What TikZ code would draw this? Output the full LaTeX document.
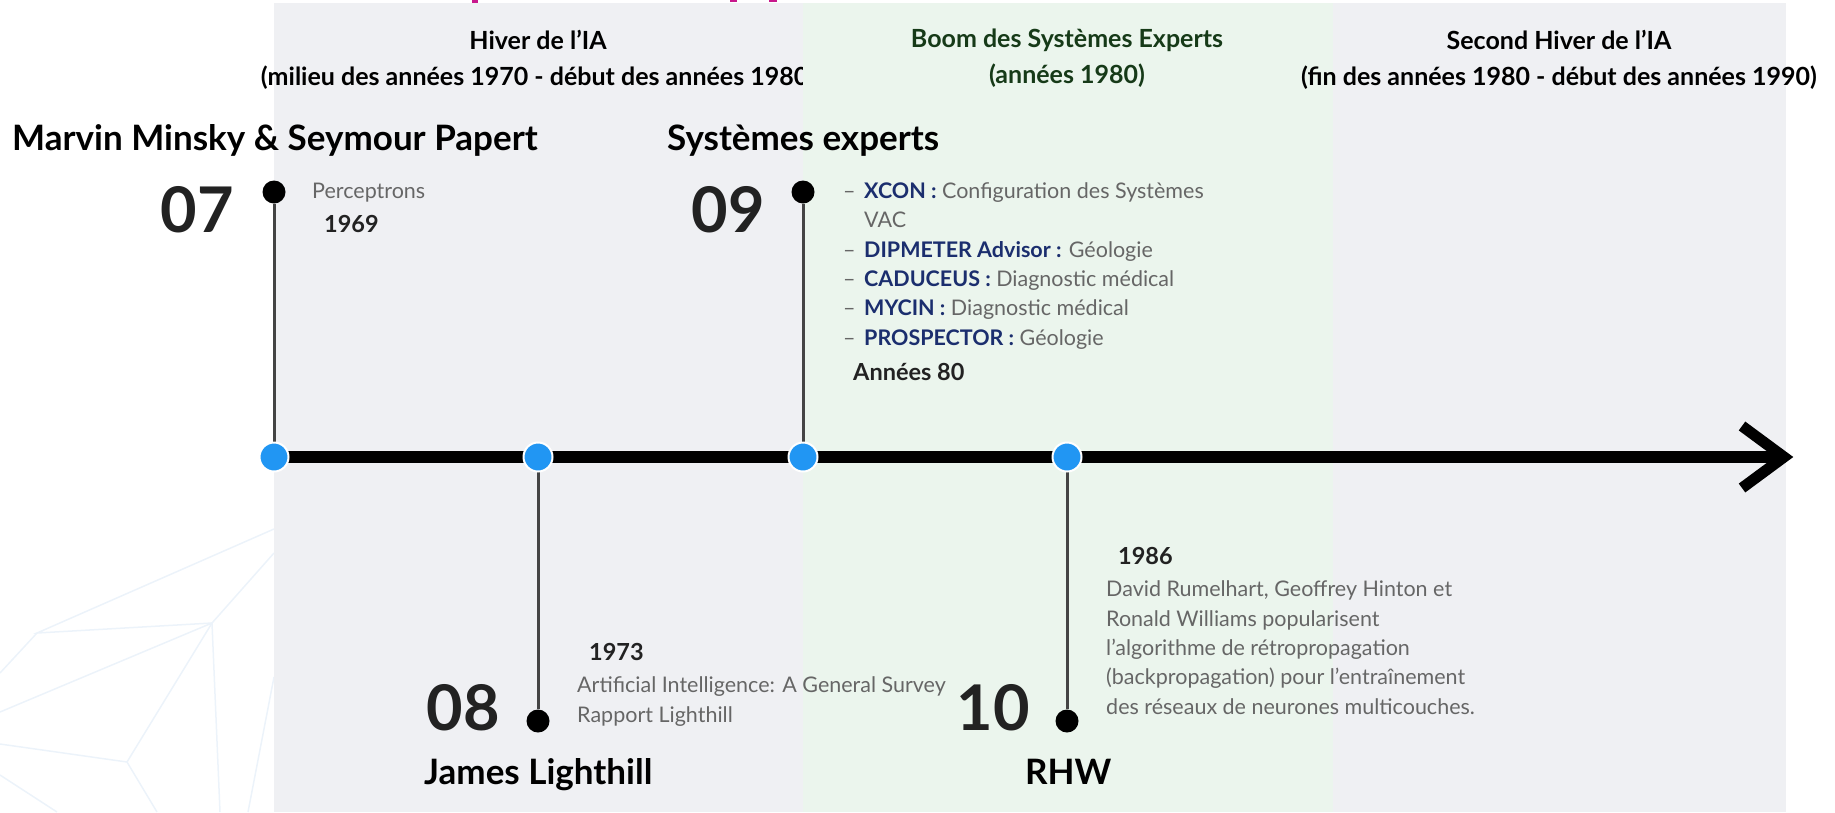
\documentclass[tikz,border=0pt]{standalone}
\usepackage{fontspec}
\setmainfont{Lato}

\definecolor{panelgray}{RGB}{239,240,243}
\definecolor{panelgreen}{RGB}{235,245,237}
\definecolor{boomgreen}{RGB}{22,58,24}
\definecolor{itemnavy}{RGB}{27,46,110}
\definecolor{bodygray}{RGB}{102,102,102}
\definecolor{numdark}{RGB}{34,34,34}
\definecolor{stemgray}{RGB}{68,68,68}
\definecolor{dotblue}{RGB}{33,150,243}
\definecolor{decoline}{RGB}{236,243,250}
\definecolor{titlepink}{RGB}{200,24,140}

\tikzset{
  yeardot/.style={circle, fill=dotblue, draw=white, line width=2pt, minimum size=29pt, inner sep=0pt},
  enddot/.style={circle, fill=black, minimum size=23pt, inner sep=0pt},
  stem/.style={draw=stemgray, line width=3pt},
  bignum/.style={font=\fontsize{63}{63}\selectfont\bfseries, text=numdark, inner sep=0pt},
  eventtitle/.style={font=\fontsize{35}{40}\selectfont\bfseries, text=black, inner sep=0pt},
  yearlabel/.style={font=\fontsize{23.5}{29}\selectfont\bfseries, text=numdark, inner sep=0pt},
  bodytext/.style={font=\fontsize{21.5}{29.3}\selectfont, text=bodygray, inner sep=0pt, align=left},
  periodtext/.style={font=\fontsize{25}{36}\selectfont\bfseries, inner sep=0pt, align=center},
}

\begin{document}
\begin{tikzpicture}[x=1pt, y=-1pt]
  \useasboundingbox (0,0) rectangle (1835,812);

  % Drawing background lines
  \draw [decoline, line width=1.5pt] (274,529) -- (37,633) -- (212,623) -- (274,553);%
  \draw [decoline, line width=1.5pt] (0,673) -- (37,633);%
  \draw [decoline, line width=1.5pt] (0,712) -- (212,623) -- (127,762) -- (0,744);%
  \draw [decoline, line width=1.5pt] (127,762) -- (157,812);%
  \draw [decoline, line width=1.5pt] (212,623) -- (220,812);%
  \draw [decoline, line width=1.5pt] (0,775) -- (57,812);%
  \draw [decoline, line width=1.5pt] (274,677) -- (248,812);%

  % Drawing period panels
  \fill [panelgray] (274,3) rectangle (1786,812);%
  \node [periodtext, anchor=base] (winter1) at (538,85)
    {Hiver de l’IA\\(milieu des années 1970 - début des années 1980)};%
  \fill [panelgreen] (803,3) rectangle (1333,812);%
  \node [periodtext, text=boomgreen, anchor=base] (boom) at (1067,83)
    {Boom des Systèmes Experts\\(années 1980)};%
  \node [periodtext, anchor=base] (winter2) at (1559,85)
    {Second Hiver de l’IA\\(fin des années 1980 - début des années 1990)};%

  % Drawing cut title
  \fill [titlepink] (472,0) rectangle (478,3);%
  \fill [titlepink] (730,0) rectangle (737,2);%
  \fill [titlepink] (769,0) rectangle (777,2);%

  % Marking points on the axis
  \coordinate (p07) at (274,457);%
  \coordinate (p08) at (538,457);%
  \coordinate (p09) at (803,457);%
  \coordinate (p10) at (1067,457);%
  \coordinate (tip) at (1784,457);%
  \node [enddot] (e07) at (274,192) {};%
  \node [enddot] (e09) at (803,192) {};%
  \node [enddot] (e08) at (538,721) {};%
  \node [enddot] (e10) at (1067,721) {};%

  % Drawing stems
  \draw [stem] (e07) -- (p07);%
  \draw [stem] (e09) -- (p09);%
  \draw [stem] (p08) -- (e08);%
  \draw [stem] (p10) -- (e10);%

  % Drawing axis
  \draw [line width=12pt] (p07) -- (tip);%
  \draw [line width=11pt, miter limit=10] (1742,426) -- (tip) -- (1742,488);%
  \node [yeardot] (d07) at (p07) {};%
  \node [yeardot] (d08) at (p08) {};%
  \node [yeardot] (d09) at (p09) {};%
  \node [yeardot] (d10) at (p10) {};%

  % Marking event 07
  \node [eventtitle, anchor=base west] (minsky) at (12,150) {Marvin Minsky \& Seymour Papert};%
  \node [bignum, anchor=base east] (n07) at (234,232) {07};%
  \node [bodytext, anchor=base west] (perceptrons) at (312,198) {Perceptrons};%
  \node [yearlabel, anchor=base west] (y1969) at (324,232) {1969};%

  % Marking event 08
  \node [bignum, anchor=base east] (n08) at (500,730) {08};%
  \node [eventtitle, anchor=base west] (lighthill) at (424,784) {James Lighthill};%
  \node [yearlabel, anchor=base west] (y1973) at (589,660) {1973};%
  \node [bodytext, anchor=base west] (survey) at (577,722)
    {Artificial Intelligence: A General Survey\\Rapport Lighthill};%

  % Marking event 09
  \node [eventtitle, anchor=base west] (experts) at (667,150) {Systèmes experts};%
  \node [bignum, anchor=base east] (n09) at (765,232) {09};%
  \node [bodytext, anchor=base west] (systems) at (843,345)
    {\makebox[21pt][l]{–}\textcolor{itemnavy}{\bfseries XCON :} Configuration des Systèmes\\
     \hspace*{21pt}VAC\\
     \makebox[21pt][l]{–}\textcolor{itemnavy}{\bfseries DIPMETER Advisor :} Géologie\\
     \makebox[21pt][l]{–}\textcolor{itemnavy}{\bfseries CADUCEUS :} Diagnostic médical\\
     \makebox[21pt][l]{–}\textcolor{itemnavy}{\bfseries MYCIN :} Diagnostic médical\\
     \makebox[21pt][l]{–}\textcolor{itemnavy}{\bfseries PROSPECTOR :} Géologie};%
  \node [yearlabel, anchor=base west] (y80) at (853,380) {Années 80};%

  % Marking event 10
  \node [bignum, anchor=base east] (n10) at (1030,730) {10};%
  \node [eventtitle, anchor=base west] (rhw) at (1025,784) {RHW};%
  \node [yearlabel, anchor=base west] (y1986) at (1118,564) {1986};%
  \node [bodytext, anchor=base west] (backprop) at (1106,714)
    {David Rumelhart, Geoffrey Hinton et\\Ronald Williams popularisent\\l’algorithme de rétropropagation\\(backpropagation) pour l’entraînement\\des réseaux de neurones multicouches.};%
\end{tikzpicture}
\end{document}
